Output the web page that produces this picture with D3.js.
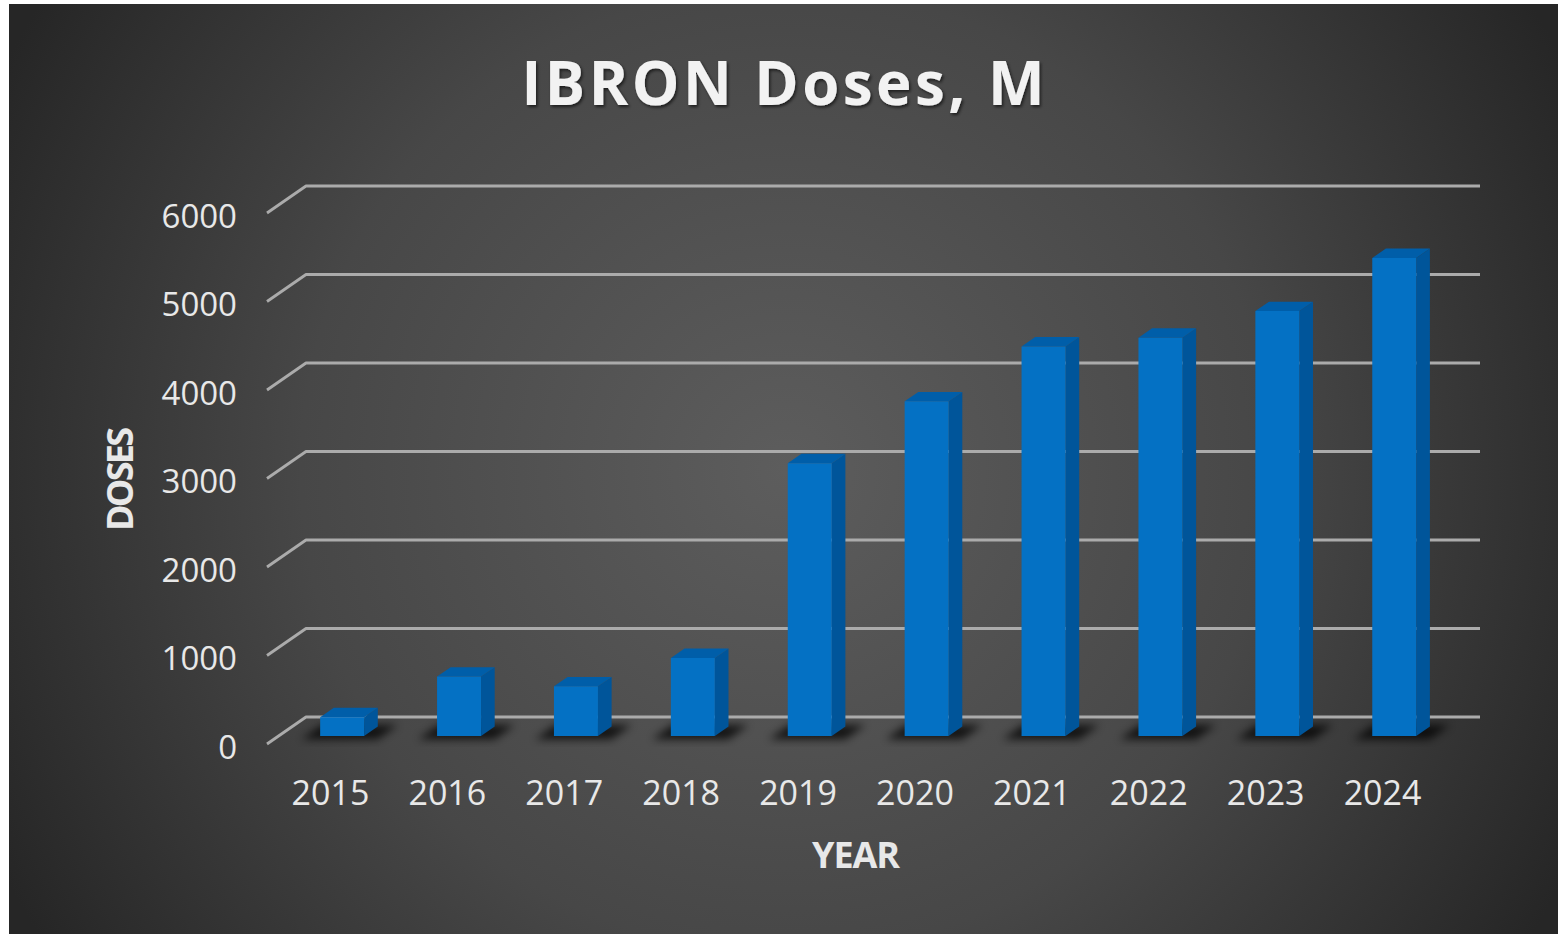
<!DOCTYPE html>
<html>
<head>
<meta charset="utf-8">
<script src="https://cdn.jsdelivr.net/npm/d3@7"></script>
<style>
  body { margin: 0; background: #fff; }
  text { font-family: "Open Sans", "Noto Sans", sans-serif; fill: #e8e8e8; }
</style>
</head>
<body>
<div id="chart"></div>
<script>
var years = ["2015", "2016", "2017", "2018", "2019", "2020", "2021", "2022", "2023", "2024"];
var doses = [210, 670, 560, 880, 3080, 3780, 4400, 4500, 4800, 5400];
var yTicks = [0, 1000, 2000, 3000, 4000, 5000, 6000];

var w = 1558, h = 935,
    depth = [39, -27],   // dx, dy of the full floor depth (front -> back wall)
    barZ = [0.3, 0.65],  // bar depth position as fraction of floor
    barW = 44;

var svg = d3.select("#chart").append("svg")
    .attr("width", w)
    .attr("height", h);

var defs = svg.append("defs");

var grad = defs.append("radialGradient")
    .attr("id", "bg")
    .attr("gradientUnits", "userSpaceOnUse")
    .attr("cx", 785).attr("cy", 470).attr("r", 880);
grad.append("stop").attr("offset", "0").attr("stop-color", "#5d5d5d");
grad.append("stop").attr("offset", "0.55").attr("stop-color", "#474747");
grad.append("stop").attr("offset", "1").attr("stop-color", "#262626");

defs.append("filter").attr("id", "blur")
    .attr("x", "-50%").attr("y", "-50%").attr("width", "200%").attr("height", "200%")
  .append("feGaussianBlur").attr("stdDeviation", 4);

var ts = defs.append("filter").attr("id", "tshadow")
    .attr("x", "-10%").attr("y", "-30%").attr("width", "120%").attr("height", "160%");
ts.append("feDropShadow").attr("dx", 1.5).attr("dy", 2).attr("stdDeviation", 1.5)
    .attr("flood-color", "#000").attr("flood-opacity", 0.6);

svg.append("rect")
    .attr("x", 9).attr("y", 4)
    .attr("width", w - 9).attr("height", 930)
    .attr("fill", "url(#bg)");

// scales on the front plane
var x = d3.scaleBand()
    .domain(years)
    .range([272, 1441]);

var y = d3.scaleLinear()
    .domain([0, 6000])
    .range([744, 213]);

function proj(px, v, z) {
  return [px + depth[0] * z, y(v) + depth[1] * z];
}

// gridlines: side wall diagonal + back wall
var wallX0 = 267, wallX1 = 1441;
var grid = svg.append("g");
yTicks.forEach(function(v) {
  var a = proj(wallX0, v, 0), b = proj(wallX0, v, 1), c = proj(wallX1, v, 1);
  grid.append("path")
      .attr("d", "M" + a + "L" + b + "L" + c)
      .attr("fill", "none")
      .attr("stroke", "#ababab")
      .attr("stroke-width", 2.8)
      .attr("stroke-linejoin", "round");
});

// tick labels
svg.append("g").selectAll("text")
    .data(yTicks)
  .enter().append("text")
    .attr("x", 237)
    .attr("y", function(d) { return y(d) + 3; })
    .attr("dy", "0.36em")
    .attr("text-anchor", "end")
    .style("font-size", "33px")
    .text(function(d) { return d; });

svg.append("g").selectAll("text")
    .data(years)
  .enter().append("text")
    .attr("x", function(d) { return x(d) + x.bandwidth() / 2; })
    .attr("y", 805)
    .attr("text-anchor", "middle")
    .style("font-size", "34px")
    .text(function(d) { return d; });

// bars
var bars = svg.append("g").selectAll("g")
    .data(years.map(function(d, i) { return {year: d, value: doses[i]}; }))
  .enter().append("g");

function bx0(d) { return x(d.year) + x.bandwidth() / 2 - barW / 2; }
function poly(pts) { return "M" + pts.join("L") + "Z"; }

// floor shadow
bars.append("path")
    .attr("d", function(d) {
      var x0 = bx0(d) - 14, x1 = bx0(d) + barW + 18;
      return poly([proj(x0, 0, barZ[0] - 0.12), proj(x1, 0, barZ[0] - 0.12),
                   proj(x1, 0, barZ[1] + 0.05), proj(x0, 0, barZ[1] + 0.05)]);
    })
    .attr("fill", "#000")
    .attr("opacity", 0.75)
    .attr("filter", "url(#blur)");

// side face
bars.append("path")
    .attr("d", function(d) {
      var x1 = bx0(d) + barW;
      return poly([proj(x1, 0, barZ[0]), proj(x1, d.value, barZ[0]),
                   proj(x1, d.value, barZ[1]), proj(x1, 0, barZ[1])]);
    })
    .attr("fill", "#00559a");

// top face
bars.append("path")
    .attr("d", function(d) {
      var x0 = bx0(d), x1 = x0 + barW;
      return poly([proj(x0, d.value, barZ[0]), proj(x1, d.value, barZ[0]),
                   proj(x1, d.value, barZ[1]), proj(x0, d.value, barZ[1])]);
    })
    .attr("fill", "#005ea9");

// front face
bars.append("path")
    .attr("d", function(d) {
      var x0 = bx0(d), x1 = x0 + barW;
      return poly([proj(x0, 0, barZ[0]), proj(x1, 0, barZ[0]),
                   proj(x1, d.value, barZ[0]), proj(x0, d.value, barZ[0])]);
    })
    .attr("fill", "#0471c4");

// titles
svg.append("text")
    .attr("x", 783)
    .attr("y", 105)
    .attr("text-anchor", "middle")
    .attr("textLength", 523)
    .attr("lengthAdjust", "spacing")
    .attr("filter", "url(#tshadow)")
    .style("font-size", "60px")
    .style("font-weight", "bold")
    .style("fill", "#f2f2f2")
    .text("IBRON Doses, M");

svg.append("text")
    .attr("transform", "translate(133,479)rotate(-90)")
    .attr("text-anchor", "middle")
    .attr("textLength", 104)
    .attr("lengthAdjust", "spacing")
    .style("font-size", "36px")
    .style("font-weight", "bold")
    .text("DOSES");

svg.append("text")
    .attr("x", 856)
    .attr("y", 868)
    .attr("text-anchor", "middle")
    .attr("textLength", 88)
    .attr("lengthAdjust", "spacing")
    .style("font-size", "36px")
    .style("font-weight", "bold")
    .text("YEAR");
</script>
</body>
</html>
